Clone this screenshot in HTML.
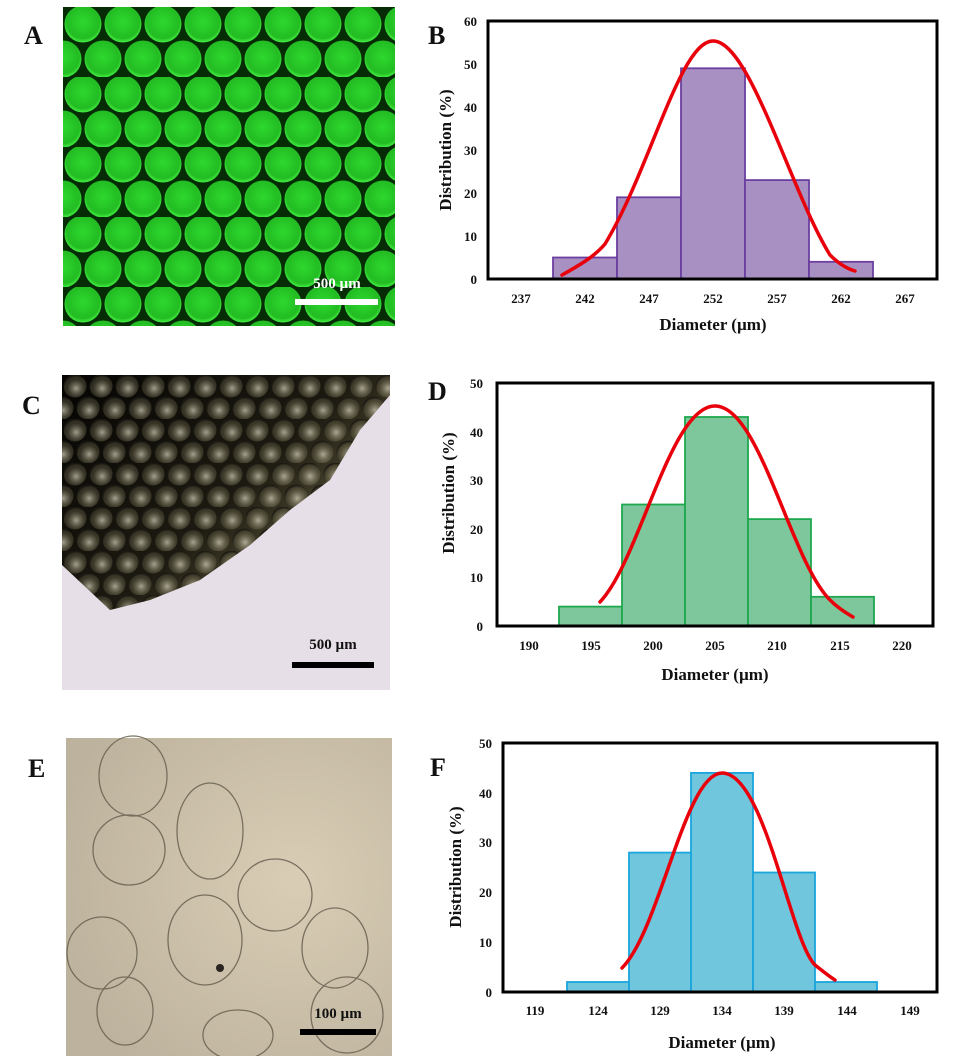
<!DOCTYPE html>
<html><head><meta charset="utf-8"><style>
html,body{margin:0;padding:0;background:#fff;}
svg{display:block;}
text{font-family:"Liberation Serif",serif;font-weight:bold;fill:#111;}
</style></head><body>
<svg width="955" height="1058" viewBox="0 0 955 1058" xmlns="http://www.w3.org/2000/svg">
<defs>
  <radialGradient id="gc" cx="50%" cy="45%" r="55%">
    <stop offset="0" stop-color="#2ed62e"/><stop offset="0.8" stop-color="#22b822"/><stop offset="1" stop-color="#45f045"/>
  </radialGradient>
  <pattern id="gp" x="63" y="7" width="40" height="70" patternUnits="userSpaceOnUse">
    <rect width="40" height="70" fill="#031f03"/>
    <circle cx="20" cy="17" r="18.5" fill="url(#gc)"/>
    <circle cx="0" cy="52" r="18.5" fill="url(#gc)"/>
    <circle cx="40" cy="52" r="18.5" fill="url(#gc)"/>
  </pattern>
  <linearGradient id="cdark" x1="0" y1="0" x2="1" y2="1">
    <stop offset="0" stop-color="#050402"/><stop offset="0.45" stop-color="#1c1a10"/><stop offset="0.75" stop-color="#6e6749"/><stop offset="1" stop-color="#a9a383"/>
  </linearGradient>
  <radialGradient id="cc" cx="55%" cy="60%" r="55%">
    <stop offset="0" stop-color="#e8e4cc" stop-opacity="0.8"/><stop offset="0.75" stop-color="#7a7458" stop-opacity="0.4"/><stop offset="1" stop-color="#1a1812" stop-opacity="0.95"/>
  </radialGradient>
  <pattern id="cp" x="62" y="375" width="26" height="44" patternUnits="userSpaceOnUse">
    <circle cx="13" cy="11" r="11.5" fill="url(#cc)"/>
    <circle cx="0" cy="33" r="11.5" fill="url(#cc)"/>
    <circle cx="26" cy="33" r="11.5" fill="url(#cc)"/>
  </pattern>
  <clipPath id="cclip"><path d="M62,375 L390,375 L390,395 L360,430 L330,480 L290,510 L250,545 L200,580 L150,600 L110,610 L62,565 Z"/></clipPath>
  <radialGradient id="eb" cx="70%" cy="45%" r="75%">
    <stop offset="0" stop-color="#d9cdb5"/><stop offset="1" stop-color="#bdb29d"/>
  </radialGradient>
</defs>

<!-- Panel A -->
<text x="24" y="44" font-size="26">A</text>
<rect x="63" y="7" width="332" height="319" fill="url(#gp)"/>
<rect x="63" y="7" width="332" height="319" fill="#30ff30" opacity="0.06"/>
<text x="337" y="288" font-size="15" text-anchor="middle" style="fill:#fff">500 µm</text>
<rect x="295" y="299" width="83" height="6" fill="#fff"/>

<!-- Panel C -->
<text x="22" y="414" font-size="26">C</text>
<rect x="62" y="375" width="328" height="315" fill="#e6dfe7"/>
<g clip-path="url(#cclip)">
  <rect x="62" y="375" width="328" height="315" fill="url(#cdark)"/>
  <rect x="62" y="375" width="328" height="315" fill="url(#cp)" opacity="0.85"/>
</g>
<text x="333" y="649" font-size="15" text-anchor="middle">500 µm</text>
<rect x="292" y="662" width="82" height="6" fill="#000"/>

<!-- Panel E -->
<text x="28" y="777" font-size="26">E</text>
<rect x="66" y="738" width="326" height="318" fill="url(#eb)"/>
<g fill="none" stroke="#6f6656" stroke-width="1.3" opacity="0.9">
  <ellipse cx="133" cy="776" rx="34" ry="40"/>
  <ellipse cx="129" cy="850" rx="36" ry="35"/>
  <ellipse cx="210" cy="831" rx="33" ry="48"/>
  <ellipse cx="275" cy="895" rx="37" ry="36"/>
  <ellipse cx="205" cy="940" rx="37" ry="45"/>
  <ellipse cx="102" cy="953" rx="35" ry="36"/>
  <ellipse cx="335" cy="948" rx="33" ry="40"/>
  <ellipse cx="125" cy="1011" rx="28" ry="34"/>
  <ellipse cx="238" cy="1035" rx="35" ry="25"/>
  <ellipse cx="347" cy="1015" rx="36" ry="38"/>
</g>
<circle cx="220" cy="968" r="4" fill="#2a2420"/>
<rect x="66" y="1056" width="326" height="2" fill="#fff"/>
<text x="338" y="1018" font-size="15" text-anchor="middle">100 µm</text>
<rect x="300" y="1029" width="76" height="6" fill="#000"/>

<!-- Chart B -->
<text x="428" y="44" font-size="26">B</text>
<g fill="#a890c2" stroke="#6b3fa0" stroke-width="1.8">
  <rect x="553" y="257.5" width="64" height="21.5"/>
  <rect x="617" y="197.3" width="64" height="81.7"/>
  <rect x="681" y="68.3" width="64" height="210.7"/>
  <rect x="745" y="180.1" width="64" height="98.9"/>
  <rect x="809" y="261.8" width="64" height="17.2"/>
</g>
<path d="M562,275 C580,265 595,256 605,244 C650,170 680,41 713,41 C750,41 790,190 830,255 C840,265 848,269 855,271" fill="none" stroke="#e8000b" stroke-width="3.5" stroke-linecap="round"/>
<rect x="488" y="21" width="449" height="258" fill="none" stroke="#000" stroke-width="3"/>
<g font-size="13" text-anchor="end">
  <text x="477" y="284">0</text><text x="477" y="241">10</text><text x="477" y="198">20</text><text x="477" y="155">30</text><text x="477" y="112">40</text><text x="477" y="69">50</text><text x="477" y="26">60</text>
</g>
<g font-size="13" text-anchor="middle">
  <text x="521" y="303">237</text><text x="585" y="303">242</text><text x="649" y="303">247</text><text x="713" y="303">252</text><text x="777" y="303">257</text><text x="841" y="303">262</text><text x="905" y="303">267</text>
</g>
<text x="713" y="330" font-size="17" text-anchor="middle">Diameter (µm)</text>
<text transform="translate(451,150) rotate(-90)" font-size="17" text-anchor="middle">Distribution (%)</text>

<!-- Chart D -->
<text x="428" y="400" font-size="26">D</text>
<g fill="#7ec79c" stroke="#1ea84e" stroke-width="1.8">
  <rect x="559" y="606.6" width="63" height="19.4"/>
  <rect x="622" y="504.5" width="63" height="121.5"/>
  <rect x="685" y="417" width="63" height="209"/>
  <rect x="748" y="519.1" width="63" height="106.9"/>
  <rect x="811" y="596.8" width="63" height="29.2"/>
</g>
<path d="M600,602 C640,560 670,406 715,406 C760,406 790,560 830,600 C840,610 848,614 853,617" fill="none" stroke="#e8000b" stroke-width="3.5" stroke-linecap="round"/>
<rect x="497" y="383" width="436" height="243" fill="none" stroke="#000" stroke-width="3"/>
<g font-size="13" text-anchor="end">
  <text x="483" y="631">0</text><text x="483" y="582">10</text><text x="483" y="534">20</text><text x="483" y="485">30</text><text x="483" y="437">40</text><text x="483" y="388">50</text>
</g>
<g font-size="13" text-anchor="middle">
  <text x="529" y="650">190</text><text x="591" y="650">195</text><text x="653" y="650">200</text><text x="715" y="650">205</text><text x="777" y="650">210</text><text x="840" y="650">215</text><text x="902" y="650">220</text>
</g>
<text x="715" y="680" font-size="17" text-anchor="middle">Diameter (µm)</text>
<text transform="translate(454,493) rotate(-90)" font-size="17" text-anchor="middle">Distribution (%)</text>

<!-- Chart F -->
<text x="430" y="776" font-size="26">F</text>
<g fill="#70c6dd" stroke="#1aa5dc" stroke-width="1.8">
  <rect x="567" y="982" width="62" height="10"/>
  <rect x="629" y="852.6" width="62" height="139.4"/>
  <rect x="691" y="772.9" width="62" height="219.1"/>
  <rect x="753" y="872.5" width="62" height="119.5"/>
  <rect x="815" y="982" width="62" height="10"/>
</g>
<path d="M622,968 C660,930 685,773 722,773 C765,773 790,940 815,965 C825,973 830,977 835,980" fill="none" stroke="#e8000b" stroke-width="3.5" stroke-linecap="round"/>
<rect x="503" y="743" width="434" height="249" fill="none" stroke="#000" stroke-width="3"/>
<g font-size="13" text-anchor="end">
  <text x="492" y="997">0</text><text x="492" y="947">10</text><text x="492" y="897">20</text><text x="492" y="847">30</text><text x="492" y="798">40</text><text x="492" y="748">50</text>
</g>
<g font-size="13" text-anchor="middle">
  <text x="535" y="1015">119</text><text x="598" y="1015">124</text><text x="660" y="1015">129</text><text x="722" y="1015">134</text><text x="784" y="1015">139</text><text x="847" y="1015">144</text><text x="910" y="1015">149</text>
</g>
<text x="722" y="1048" font-size="17" text-anchor="middle">Diameter (µm)</text>
<text transform="translate(461,867) rotate(-90)" font-size="17" text-anchor="middle">Distribution (%)</text>
</svg>
</body></html>
